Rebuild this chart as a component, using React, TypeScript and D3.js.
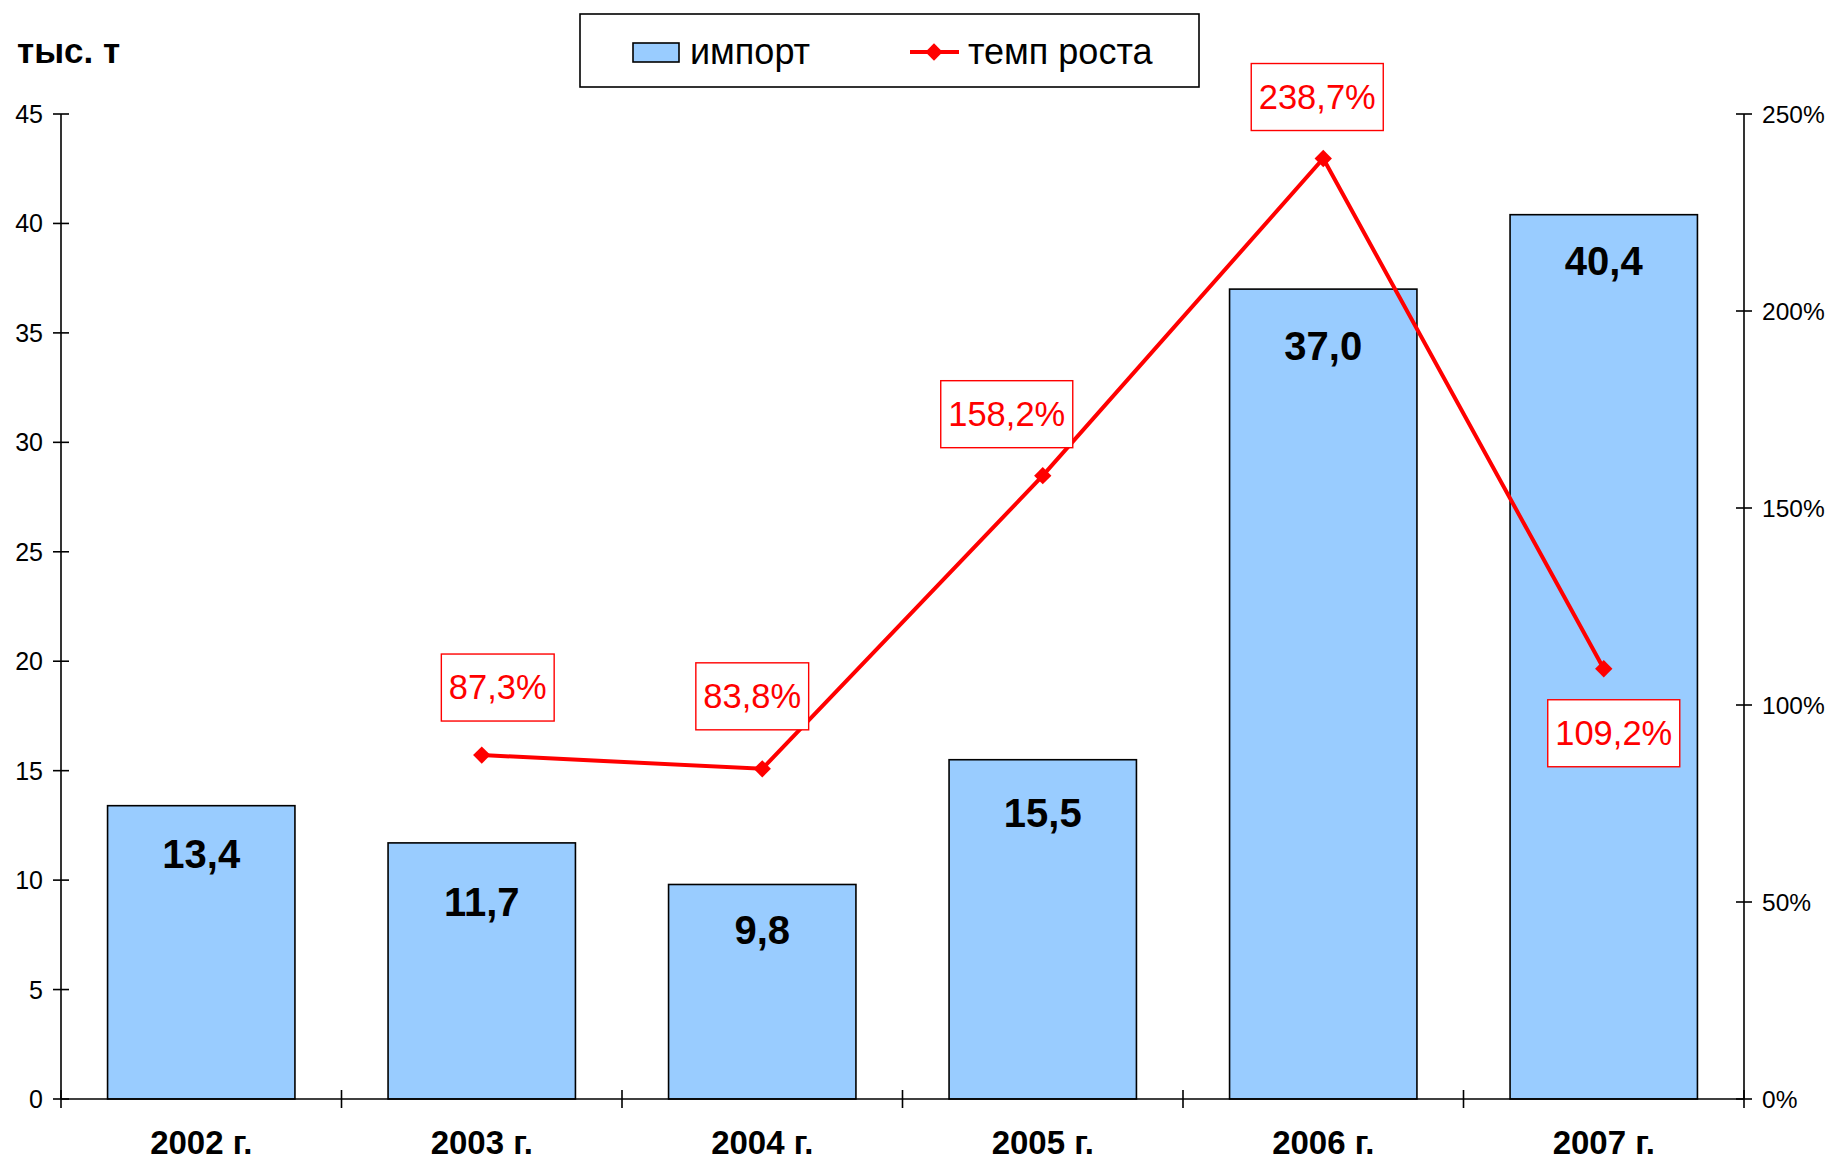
import React, { useEffect, useRef } from "react";
import * as d3 from "d3";

// chart data
const years = ["2002 г.", "2003 г.", "2004 г.", "2005 г.", "2006 г.", "2007 г."];
const importValues = [13.4, 11.7, 9.8, 15.5, 37.0, 40.4];
const growthYears = ["2003 г.", "2004 г.", "2005 г.", "2006 г.", "2007 г."];
const growthValues = [87.3, 83.8, 158.2, 238.7, 109.2];
const leftTicks = [0, 5, 10, 15, 20, 25, 30, 35, 40, 45];
const rightTicks = [0, 50, 100, 150, 200, 250];

// layout tweaks for labels
const barLabelDy = [62, 73, 60, 67, 71, 60];
const growthLabelOffsets = [
  [16, -68],
  [-10, -73],
  [-36, -62],
  [-6, -62],
  [10, 64],
];

const FONT = "'Liberation Sans', Arial, sans-serif";
const fmt = (v: number, d: number) => v.toFixed(d).replace(".", ",");

export default function App() {
  const ref = useRef<SVGSVGElement>(null);

  useEffect(() => {
    const width = 1827,
      height = 1159;
    const left = 61,
      right = 1744,
      top = 114,
      bottom = 1099;

    const svg = d3.select(ref.current);
    svg.selectAll("*").remove();
    svg.attr("width", width).attr("height", height).style("font-family", FONT);

    const x = d3.scaleBand().domain(years).range([left, right]).paddingInner(0.332).paddingOuter(0.166);
    const band = (right - left) / years.length;
    const xc = (c: string) => left + band * years.indexOf(c) + band / 2;

    const y = d3.scaleLinear().domain([0, 45]).range([bottom, top]);
    const y2 = d3.scaleLinear().domain([0, 250]).range([bottom, top]);

    // bars
    svg
      .append("g")
      .selectAll("rect")
      .data(importValues)
      .enter()
      .append("rect")
      .attr("x", (d, i) => x(years[i])!)
      .attr("y", (d) => y(d))
      .attr("width", x.bandwidth())
      .attr("height", (d) => bottom - y(d))
      .attr("fill", "#99CCFF")
      .attr("stroke", "#000")
      .attr("stroke-width", 1.6);

    // bar labels
    svg
      .append("g")
      .selectAll("text")
      .data(importValues)
      .enter()
      .append("text")
      .attr("x", (d, i) => xc(years[i]))
      .attr("y", (d, i) => y(d) + barLabelDy[i])
      .attr("text-anchor", "middle")
      .attr("font-size", 40)
      .attr("font-weight", "bold")
      .text((d) => fmt(d, 1));

    // left axis
    const gl = svg.append("g").attr("transform", `translate(${left},0)`);
    gl.append("line").attr("y1", top).attr("y2", bottom).attr("stroke", "#000").attr("stroke-width", 1.6);
    leftTicks.forEach((t) => {
      gl.append("line").attr("x1", -8).attr("x2", 8).attr("y1", y(t)).attr("y2", y(t)).attr("stroke", "#000").attr("stroke-width", 1.6);
      gl.append("text").attr("x", -18).attr("y", y(t) + 9).attr("text-anchor", "end").attr("font-size", 25).text(t);
    });

    // right axis
    const gr = svg.append("g").attr("transform", `translate(${right},0)`);
    gr.append("line").attr("y1", top).attr("y2", bottom).attr("stroke", "#000").attr("stroke-width", 1.6);
    rightTicks.forEach((t) => {
      gr.append("line").attr("x1", -8).attr("x2", 8).attr("y1", y2(t)).attr("y2", y2(t)).attr("stroke", "#000").attr("stroke-width", 1.6);
      gr.append("text").attr("x", 18).attr("y", y2(t) + 9).attr("font-size", 24.5).text(t + "%");
    });

    // x axis
    const gx = svg.append("g");
    gx.append("line").attr("x1", left).attr("x2", right).attr("y1", bottom).attr("y2", bottom).attr("stroke", "#000").attr("stroke-width", 1.6);
    d3.range(years.length + 1).forEach((i) => {
      const xx = left + band * i;
      gx.append("line").attr("x1", xx).attr("x2", xx).attr("y1", bottom - 9).attr("y2", bottom + 9).attr("stroke", "#000").attr("stroke-width", 1.6);
    });
    years.forEach((c) => {
      gx.append("text").attr("x", xc(c)).attr("y", 1154).attr("text-anchor", "middle").attr("font-size", 33).attr("font-weight", "bold").text(c);
    });

    // growth line
    const line = d3
      .line<number>()
      .x((d, i) => xc(growthYears[i]))
      .y((d) => y2(d));
    svg.append("path").datum(growthValues).attr("d", line).attr("fill", "none").attr("stroke", "#FF0000").attr("stroke-width", 4);

    const diamond = d3.symbol().type(d3.symbolSquare).size(150);
    svg
      .append("g")
      .selectAll("path")
      .data(growthValues)
      .enter()
      .append("path")
      .attr("d", diamond)
      .attr("transform", (d, i) => `translate(${xc(growthYears[i])},${y2(d)}) rotate(45)`)
      .attr("fill", "#FF0000");

    // growth labels in boxes
    growthValues.forEach((v, i) => {
      const cx = xc(growthYears[i]) + growthLabelOffsets[i][0];
      const cy = y2(v) + growthLabelOffsets[i][1];
      const g = svg.append("g");
      const txt = g
        .append("text")
        .attr("x", cx)
        .attr("y", cy + 12)
        .attr("text-anchor", "middle")
        .attr("font-size", 34.5)
        .attr("fill", "#FF0000")
        .text(fmt(v, 1) + "%");
      const w = (txt.node() as SVGTextElement).getComputedTextLength() + 15;
      g.insert("rect", "text")
        .attr("x", cx - w / 2)
        .attr("y", cy - 33)
        .attr("width", w)
        .attr("height", 67)
        .attr("fill", "#fff")
        .attr("stroke", "#FF0000")
        .attr("stroke-width", 1.4);
    });

    // unit title
    svg.append("text").attr("x", 17).attr("y", 63).attr("font-size", 35).attr("font-weight", "bold").text("тыс. т");

    // legend
    const lg = svg.append("g");
    lg.append("rect").attr("x", 580).attr("y", 14).attr("width", 619).attr("height", 73).attr("fill", "#fff").attr("stroke", "#000").attr("stroke-width", 1.6);
    lg.append("rect").attr("x", 633).attr("y", 43).attr("width", 46).attr("height", 19).attr("fill", "#99CCFF").attr("stroke", "#000").attr("stroke-width", 1.6);
    lg.append("text").attr("x", 690).attr("y", 64).attr("font-size", 36).text("импорт");
    lg.append("line").attr("x1", 910).attr("x2", 959).attr("y1", 52).attr("y2", 52).attr("stroke", "#FF0000").attr("stroke-width", 4);
    lg.append("path").attr("d", diamond).attr("transform", "translate(934,52) rotate(45)").attr("fill", "#FF0000");
    lg.append("text").attr("x", 968).attr("y", 64).attr("font-size", 36).text("темп роста");
  }, []);

  return <svg ref={ref} style={{ position: "absolute", left: 0, top: 0 }} />;
}
